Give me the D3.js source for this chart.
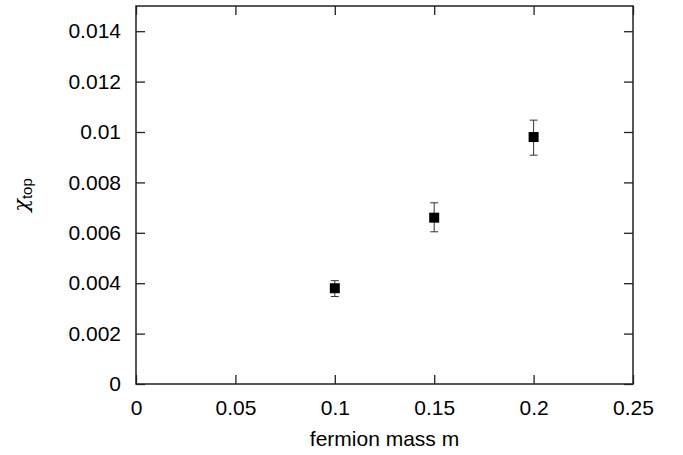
<!DOCTYPE html>
<html>
<head>
<meta charset="utf-8">
<script src="https://cdn.jsdelivr.net/npm/d3@7"></script>
<style>
  body { margin: 0; background: #fff; }
  svg { font-family: "Liberation Sans", Arial, sans-serif; }
</style>
</head>
<body>
<script>
// fermion mass m values and measured chi_top with error bounds
const masses = [0.1, 0.15, 0.2];
const chiTop = [0.0038, 0.0066, 0.0098];
const errLow = [0.00347, 0.00604, 0.00908];
const errHigh = [0.0041, 0.00719, 0.01047];

const xTicks = [0, 0.05, 0.1, 0.15, 0.2, 0.25];
const yTicks = [0, 0.002, 0.004, 0.006, 0.008, 0.01, 0.012, 0.014];

const W = 683, H = 455;
const margin = { top: 6, right: 50, bottom: 71, left: 136 };
const width = W - margin.left - margin.right,
      height = H - margin.top - margin.bottom;

const svg = d3.select('body').append('svg')
    .attr('width', W)
    .attr('height', H);

const g = svg.append('g')
    .attr('transform', 'translate(' + margin.left + ',' + margin.top + ')');

const x = d3.scaleLinear().domain([0, 0.25]).range([0, width]);
const y = d3.scaleLinear().domain([0, 0.015]).range([height, 0]);

const tickLen = 9;
const fmt = d => d === 0 ? '0' : String(+d.toFixed(3));

// bottom axis with labels
const xAxis = g.append('g')
    .attr('transform', 'translate(0,' + height + ')')
    .call(d3.axisBottom(x).tickValues(xTicks).tickSize(-tickLen).tickPadding(16).tickFormat(fmt));
// left axis with labels
const yAxis = g.append('g')
    .call(d3.axisLeft(y).tickValues(yTicks).tickSize(-tickLen).tickPadding(15).tickFormat(fmt));
// mirrored ticks on top and right
const xTop = g.append('g')
    .call(d3.axisTop(x).tickValues(xTicks).tickSize(-tickLen).tickFormat(''));
const yRight = g.append('g')
    .attr('transform', 'translate(' + width + ',0)')
    .call(d3.axisRight(y).tickValues(yTicks).tickSize(-tickLen).tickFormat(''));

[xAxis, yAxis, xTop, yRight].forEach(a => {
  a.select('.domain').remove();
  a.selectAll('line').attr('stroke', '#222').attr('stroke-width', 1.3);
  a.selectAll('text').attr('font-size', 21).attr('fill', '#000')
    .attr('font-family', '"Liberation Sans", Arial, sans-serif');
});

g.append('rect')
    .attr('width', width)
    .attr('height', height)
    .attr('fill', 'none')
    .attr('stroke', '#222')
    .attr('stroke-width', 1.5);

// error bars
const pts = masses.map((m, i) => ({ m: m, v: chiTop[i], lo: errLow[i], hi: errHigh[i] }));
const eb = g.append('g').selectAll('g').data(pts).enter().append('g')
    .attr('stroke', '#333').attr('stroke-width', 1);
eb.append('line')
    .attr('x1', d => x(d.m)).attr('x2', d => x(d.m))
    .attr('y1', d => y(d.lo)).attr('y2', d => y(d.hi));
eb.append('line')
    .attr('x1', d => x(d.m) - 4).attr('x2', d => x(d.m) + 4)
    .attr('y1', d => y(d.lo)).attr('y2', d => y(d.lo));
eb.append('line')
    .attr('x1', d => x(d.m) - 4).attr('x2', d => x(d.m) + 4)
    .attr('y1', d => y(d.hi)).attr('y2', d => y(d.hi));

// square markers
const s = 10;
g.append('g').selectAll('rect').data(pts).enter().append('rect')
    .attr('x', d => x(d.m) - s / 2)
    .attr('y', d => y(d.v) - s / 2)
    .attr('width', s).attr('height', s)
    .attr('fill', '#000');

// axis titles
svg.append('text')
    .attr('x', margin.left + width / 2)
    .attr('y', 446)
    .attr('text-anchor', 'middle')
    .attr('font-size', 21)
    .text('fermion mass m');

const yl = svg.append('text')
    .attr('transform', 'translate(28,' + (margin.top + height / 2) + ') rotate(-90)')
    .attr('text-anchor', 'middle')
    .attr('font-size', 21);
yl.append('tspan').attr('font-family', '"DejaVu Serif", serif').attr('font-style', 'italic').text('χ');
yl.append('tspan').attr('font-size', 15).attr('dy', 4).text('top');
</script>
</body>
</html>
